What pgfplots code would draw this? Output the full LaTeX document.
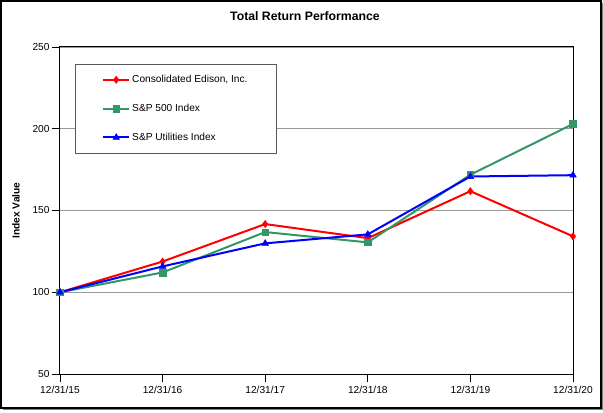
\documentclass[border=0pt]{standalone}
\usepackage{pgfplots}
\pgfplotsset{compat=1.18}
\usepackage{fontspec}
\setmainfont{Liberation Sans}
\definecolor{ceRed}{RGB}{255,0,0}
\definecolor{spGreen}{RGB}{51,150,102}
\definecolor{utBlue}{RGB}{0,0,255}
\begin{document}
\begin{tikzpicture}
\useasboundingbox (-60bp,-39bp) rectangle (543bp,374bp);
\begin{axis}[
  at={(0,0)}, anchor=south west,
  scale only axis, width=513bp, height=327bp,
  xmin=0, xmax=5, ymin=50, ymax=250,
  xtick={0,1,2,3,4,5},
  xticklabels={12/31/15,12/31/16,12/31/17,12/31/18,12/31/19,12/31/20},
  ytick={50,100,150,200,250},
  ymajorgrids, grid style={gray!80, line width=0.7bp},
  tick align=outside, major tick length=8bp,
  xtick pos=bottom, ytick pos=left,
  tick style={black, line width=0.9bp},
  axis line style={black, line width=1bp},
  /pgf/number format/assume math mode=true,
  ticklabel style={font=\fontsize{10.2}{12}\selectfont},
  xticklabel style={yshift=-1bp},
  yticklabel style={xshift=1bp},
  ylabel={Index Value},
  ylabel style={font=\bfseries\fontsize{10.2}{12}\selectfont, at={(axis description cs:-0.0858,0.5)}, anchor=center},
  title={Total Return Performance},
  title style={font=\bfseries\fontsize{12.3}{14}\selectfont, at={(axis description cs:0.4776,1)}, anchor=center, yshift=25bp},
  legend style={at={(axis description cs:0.029,0.948)}, anchor=north west,
    draw=gray!70!black, line width=0.7bp, fill=white,
    font=\fontsize{10.2}{12}\selectfont,
    inner xsep=27bp, inner ysep=9bp, row sep=16bp,
    /tikz/every even column/.append style={column sep=1bp}},
  legend cell align=left,
  legend image code/.code={\draw[mark repeat=2,mark phase=2] plot coordinates {(0bp,0bp)(13bp,0bp)(26bp,0bp)};},
  every axis plot/.append style={line width=2bp},
]
\addplot[color=ceRed, mark=diamond*, mark size=3.6bp, mark options={solid, fill=ceRed, line width=0.5bp}]
  coordinates {(0,100) (1,118.8) (2,141.7) (3,133.1) (4,161.8) (5,134.2)};
\addlegendentry{Consolidated Edison, Inc.}
\addplot[color=spGreen, mark=square*, mark size=3.3bp, mark options={solid, fill=spGreen, line width=0.5bp}]
  coordinates {(0,100) (1,112.1) (2,136.8) (3,130.5) (4,171.9) (5,202.9)};
\addlegendentry{S\&P 500 Index}
\addplot[color=utBlue, mark=triangle*, mark size=3.8bp, mark options={solid, fill=utBlue, line width=0.5bp}]
  coordinates {(0,100) (1,115.8) (2,129.9) (3,135.4) (4,170.8) (5,171.6)};
\addlegendentry{S\&P Utilities Index}
\end{axis}
\draw[black, line width=1.5bp] (-59bp,-34bp) rectangle (541bp,373bp);
\draw[gray, line width=1.5bp] (-57bp,-35.5bp) -- (542.5bp,-35.5bp) -- (542.5bp,371bp);
\end{tikzpicture}
\end{document}
